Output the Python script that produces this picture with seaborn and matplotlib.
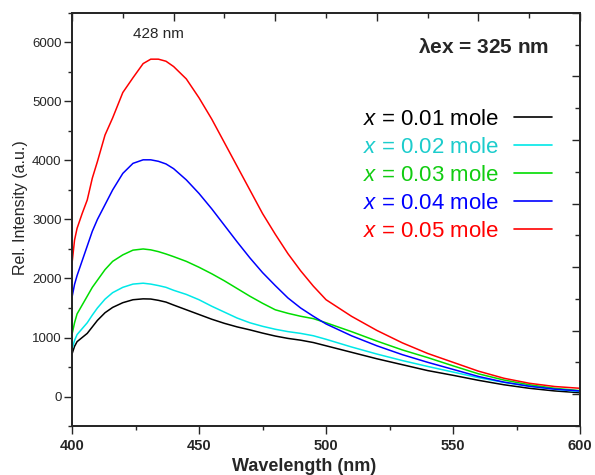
import numpy as np
import pandas as pd
import matplotlib
matplotlib.use("Agg")
import matplotlib.pyplot as plt
from matplotlib.lines import Line2D
from matplotlib.ticker import MultipleLocator, NullFormatter
import seaborn as sns

# Emission spectra (excitation at 325 nm) for five dopant concentrations
wavelength = [400, 401, 402, 404, 406, 408, 410, 413, 416, 420, 424, 428, 431, 434,
              437, 440, 445, 450, 455, 460, 465, 470, 475, 480, 485, 490, 495, 500,
              510, 520, 530, 540, 550, 560, 570, 580, 590, 600]

x001 = [720, 850, 930, 1000, 1070, 1180, 1290, 1420, 1510, 1590, 1640, 1655, 1652, 1630,
        1600, 1550, 1470, 1390, 1310, 1240, 1180, 1130, 1075, 1025, 985, 955, 915, 860,
        750, 640, 540, 440, 360, 275, 200, 140, 95, 65]
x002 = [800, 950, 1050, 1150, 1250, 1380, 1500, 1650, 1760, 1850, 1905, 1920, 1905, 1880,
        1850, 1800, 1730, 1640, 1530, 1430, 1330, 1250, 1190, 1140, 1100, 1070, 1030, 970,
        840, 720, 610, 510, 415, 320, 240, 175, 125, 85]
x003 = [1050, 1250, 1400, 1550, 1700, 1850, 1970, 2150, 2290, 2400, 2480, 2500, 2485, 2455,
        2415, 2370, 2290, 2190, 2080, 1960, 1830, 1700, 1580, 1470, 1410, 1360, 1320, 1250,
        1100, 940, 790, 660, 520, 385, 280, 200, 140, 100]
x004 = [1680, 1900, 2050, 2300, 2550, 2800, 3000, 3250, 3500, 3780, 3950, 4010, 4010, 3985,
        3940, 3860, 3670, 3440, 3180, 2900, 2620, 2350, 2100, 1880, 1670, 1500, 1360, 1230,
        1030, 860, 710, 580, 460, 340, 245, 175, 125, 95]
x005 = [2250, 2650, 2850, 3100, 3330, 3700, 3980, 4430, 4720, 5150, 5400, 5640, 5715, 5715,
        5680, 5590, 5380, 5060, 4700, 4300, 3900, 3500, 3100, 2750, 2420, 2130, 1870, 1640,
        1360, 1120, 910, 730, 580, 430, 310, 225, 170, 140]

labels = ["x = 0.01 mole", "x = 0.02 mole", "x = 0.03 mole", "x = 0.04 mole", "x = 0.05 mole"]
legend_labels = [r"$x$ = 0.01 mole", r"$x$ = 0.02 mole", r"$x$ = 0.03 mole",
                 r"$x$ = 0.04 mole", r"$x$ = 0.05 mole"]
line_colors = ["#000000", "#00E8E8", "#00DD00", "#0000FF", "#FF0000"]
text_colors = ["#000000", "#1CCCCC", "#11CC11", "#0000FF", "#FF0000"]

series = [x001, x002, x003, x004, x005]
df = pd.concat(
    [pd.DataFrame({"Wavelength": wavelength, "Intensity": s, "sample": lab})
     for s, lab in zip(series, labels)],
    ignore_index=True,
)

sns.set_style("ticks")
plt.rcParams["font.family"] = ["Liberation Sans", "DejaVu Sans"]
plt.rcParams["mathtext.fontset"] = "custom"
plt.rcParams["mathtext.it"] = "Liberation Sans:italic"
plt.rcParams["mathtext.rm"] = "Liberation Sans"
plt.rcParams["mathtext.bf"] = "Liberation Sans:bold"

fig = plt.figure(figsize=(5.95, 4.75), dpi=100)
ax = fig.add_axes([0.121, 0.103, 0.854, 0.870])

sns.lineplot(data=df, x="Wavelength", y="Intensity", hue="sample",
             palette=dict(zip(labels, line_colors)), linewidth=1.1,
             legend=False, ax=ax, sort=False)

ax.set_xlim(400, 600)
ax.set_ylim(-500, 6500)
ax.xaxis.set_major_locator(MultipleLocator(50))
ax.xaxis.set_minor_locator(MultipleLocator(25))
ax.yaxis.set_major_locator(MultipleLocator(1000))
ax.yaxis.set_minor_locator(MultipleLocator(500))
ax.tick_params(axis="both", which="major", direction="out", length=6, width=1.0,
               top=False, right=False)
ax.tick_params(axis="both", which="minor", direction="out", length=3, width=1.0,
               top=False, right=False)
ax.tick_params(axis="x", labelsize=10.5, pad=3)
ax.tick_params(axis="y", labelsize=9.5, pad=1.5)
for lab in ax.get_xticklabels():
    lab.set_fontweight("bold")
for sp in ax.spines.values():
    sp.set_linewidth(1.1)

ax.set_xlabel("Wavelength (nm)", fontsize=13, fontweight="bold", labelpad=4)
ax.xaxis.set_label_coords(0.457, -0.078)
ax.set_ylabel("Rel. Intensity (a.u.)", fontsize=11.5, labelpad=8)
ax.yaxis.set_label_coords(-0.087, 0.528)

# Mirror axes on top and right with inward ticks
ax_top = ax.twiny()
ax_top.set_xlim(400, 600)
ax_top.xaxis.set_major_locator(MultipleLocator(40))
ax_top.xaxis.set_minor_locator(MultipleLocator(20))
ax_top.xaxis.set_major_formatter(NullFormatter())
ax_top.tick_params(axis="x", which="major", direction="in", length=6, width=1.0)
ax_top.tick_params(axis="x", which="minor", direction="in", length=3.5, width=1.0)

ax_right = ax.twinx()
ax_right.set_ylim(-500, 6000)
ax_right.yaxis.set_major_locator(MultipleLocator(1000))
ax_right.yaxis.set_minor_locator(MultipleLocator(500))
ax_right.yaxis.set_major_formatter(NullFormatter())
ax_right.tick_params(axis="y", which="major", direction="in", length=6, width=1.0)
ax_right.tick_params(axis="y", which="minor", direction="in", length=3.5, width=1.0)
for a in (ax_top, ax_right):
    for sp in a.spines.values():
        sp.set_linewidth(1.1)

handles = [Line2D([], [], color=c, lw=1.2) for c in line_colors]
leg = ax_right.legend(handles, legend_labels, loc="upper right",
                      bbox_to_anchor=(0.945, 0.768), frameon=False,
                      markerfirst=False, fontsize=16, handlelength=1.7,
                      handletextpad=0.68, labelspacing=0.32, borderpad=0,
                      borderaxespad=0, labelcolor=text_colors)

ax.text(0.94, 0.917, r"$\mathbf{\lambda}$ex = 325 nm", transform=ax.transAxes,
        ha="right", va="center", fontsize=15, fontweight="bold")
ax.text(434, 6140, "428 nm", ha="center", va="center", fontsize=11)

fig.savefig("out.png", dpi=100)
